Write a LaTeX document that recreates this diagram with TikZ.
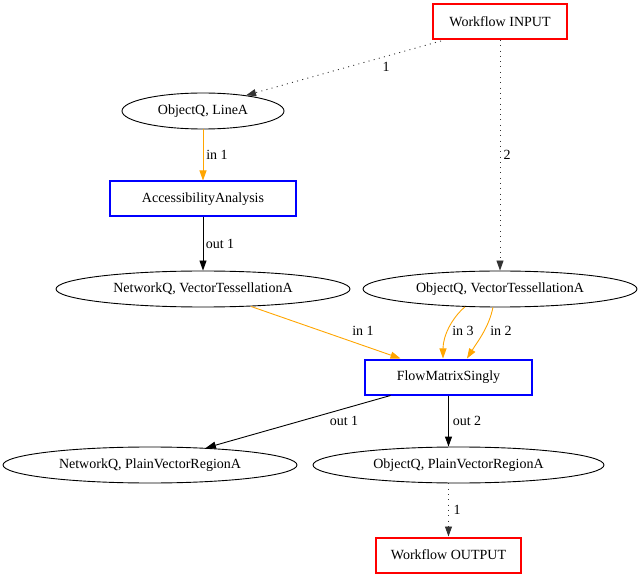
\documentclass[tikz,border=0pt]{standalone}
\usepackage{fontspec}
\setmainfont{Liberation Serif}
\usetikzlibrary{arrows.meta,shapes.geometric}
\definecolor{flowor}{HTML}{FFA500}
\tikzset{
  every node/.style={font=\fontsize{14}{16}\selectfont},
  iobox/.style={draw=red, line width=2pt, rectangle, inner sep=0pt, minimum height=35pt},
  procbox/.style={draw=blue, line width=2pt, rectangle, inner sep=0pt, minimum height=35pt},
  dataell/.style={draw=black, line width=0.9pt, ellipse, inner sep=0pt, minimum height=36pt},
  lbl/.style={inner sep=0pt},
  tip/.style={-{Triangle[length=10pt,width=7pt]}},
  dotedge/.style={tip, draw=black!80, line width=0.9pt, dash pattern=on 1pt off 4.3pt},
  inedge/.style={tip, draw=flowor, line width=0.9pt},
  outedge/.style={tip, draw=black, line width=0.9pt}
}
\begin{document}
\begin{tikzpicture}[x=1pt,y=-1pt]
\useasboundingbox (0,0) rectangle (640,577);
% nodes
\node[iobox, minimum width=134pt] (inp) at (500,21.5) {Workflow INPUT};
\node[dataell, minimum width=162pt] (la) at (203,111) {ObjectQ, LineA};
\node[procbox, minimum width=186pt] (acc) at (203,199) {AccessibilityAnalysis};
\node[dataell, minimum width=294pt] (nvt) at (203,289) {NetworkQ, VectorTessellationA};
\node[dataell, minimum width=274pt] (otv) at (500,289) {ObjectQ, VectorTessellationA};
\node[procbox, minimum width=167pt] (fm) at (448.5,377) {FlowMatrixSingly};
\node[dataell, minimum width=294pt] (npr) at (150,465) {NetworkQ, PlainVectorRegionA};
\node[dataell, minimum width=291pt] (opr) at (458.5,465) {ObjectQ, PlainVectorRegionA};
\node[iobox, minimum width=145pt] (out) at (448.5,555) {Workflow OUTPUT};
% connectors
\coordinate (i1) at ([xshift=9pt,yshift=-1pt]inp.south west);
\draw[dotedge] (i1) -- (la.20);
\draw[dotedge] (inp.south) -- (otv.north);
\draw[inedge] (la.south) -- (acc.north);
\draw[outedge] (acc.south) -- (nvt.north);
\draw[inedge] (nvt.340) -- ([xshift=-48pt]fm.north);
\draw[inedge] (otv.207) .. controls +(-14,12) and +(0,-22) .. ([xshift=-5.5pt]fm.north);
\draw[inedge] (otv.249) .. controls +(-4,20) and +(10,-16) .. ([xshift=18.5pt]fm.north);
\draw[outedge] ([xshift=-58pt]fm.south) -- (npr.17);
\draw[outedge] (fm.south) -- (fm.south |- opr.north);
\draw[dotedge] (fm.south |- opr.south) -- (out.north);
% connector labels
\node[lbl] (l1) at (386,67) {1};
\node[lbl] (l2) at (507,155) {2};
\node[lbl] (l3) at (217,155) {in 1};
\node[lbl] (l4) at (220,244) {out 1};
\node[lbl] (l5) at (363,331) {in 1};
\node[lbl] (l6) at (463,331) {in 3};
\node[lbl] (l7) at (501,331) {in 2};
\node[lbl] (l8) at (344,421) {out 1};
\node[lbl] (l9) at (467,421) {out 2};
\node[lbl] (l10) at (457,510) {1};
\end{tikzpicture}
\end{document}
